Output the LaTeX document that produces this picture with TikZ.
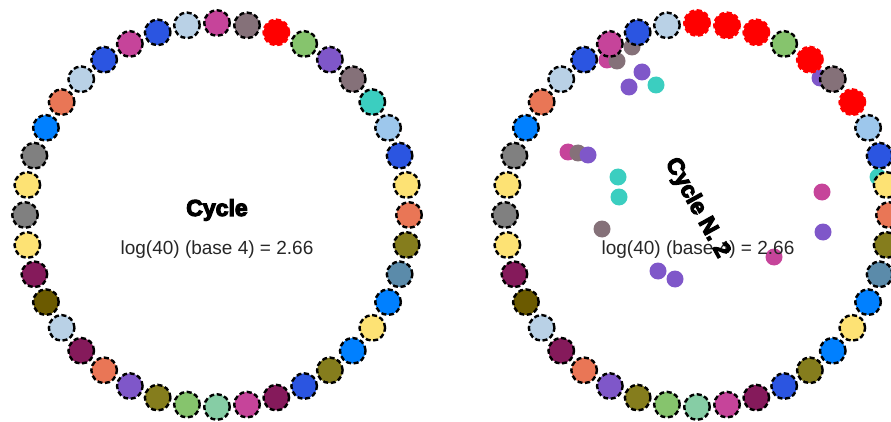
\documentclass[tikz,border=0pt]{standalone}
\usepackage{fontspec}
\setmainfont{Liberation Sans}
\newfontfamily\heavyfont[FakeBold=5]{Liberation Sans Bold}

\definecolor{cMag}{HTML}{C6449A}
\definecolor{cGbr}{HTML}{857179}
\definecolor{cGrn}{HTML}{86C46D}
\definecolor{cPur}{HTML}{7F57C9}
\definecolor{cTeal}{HTML}{3BCEC0}
\definecolor{cSky}{HTML}{9DC7EC}
\definecolor{cBlue}{HTML}{2B55E1}
\definecolor{cYel}{HTML}{FDE274}
\definecolor{cOra}{HTML}{E97656}
\definecolor{cOli}{HTML}{857D1D}
\definecolor{cSteel}{HTML}{5B8BAA}
\definecolor{cAzu}{HTML}{0080FF}
\definecolor{cMar}{HTML}{851A5B}
\definecolor{cSea}{HTML}{86CDA5}
\definecolor{cDol}{HTML}{6B5A00}
\definecolor{cGry}{HTML}{808080}
\definecolor{cIce}{HTML}{B9D1E6}

\begin{document}
\begin{tikzpicture}[x=1pt, y=1pt,
    bead/.style={circle, fill=#1, line width=2.4pt, dash pattern=on 5pt off 2.6pt, minimum size=25.6pt, inner sep=0pt},
    dot/.style={circle, fill=#1, minimum size=17pt, inner sep=0pt},
    ttl/.style={font=\heavyfont\fontsize{23}{28}\selectfont},
    lbl/.style={font=\fontsize{19}{23}\selectfont, text=black!85}
]
\path[use as bounding box] (0,0) rectangle (891,421);
\clip (0,0) rectangle (891,421);

\begin{scope}[shift={(217,206)}]
\foreach \col/\edg [count=\i] in {cMag/black, cGbr/black, red/red, cGrn/black, cPur/black, cGbr/black, cTeal/black, cSky/black, cBlue/black, cYel/black,
    cOra/black, cOli/black, cSteel/black, cAzu/black, cYel/black, cAzu/black, cOli/black, cBlue/black, cMar/black, cMag/black,
    cSea/black, cGrn/black, cOli/black, cPur/black, cOra/black, cMar/black, cIce/black, cDol/black, cMar/black, cYel/black,
    cGry/black, cYel/black, cGry/black, cAzu/black, cOra/black, cIce/black, cBlue/black, cMag/black, cBlue/black, cIce/black}
  \node[bead=\col, draw=\edg] (L\i) at ({99-9*\i}:192) {};
\end{scope}
\node[ttl] (ttlL) at (217,211) {Cycle};
\node[lbl] (logL) at (217,171) {log(40) (base 4) = 2.66};

\foreach \col/\px/\py [count=\j] in {cGbr/632/374, cMag/607/361, cGbr/617/360, cPur/642/349, cPur/629/334, cTeal/656/336, cPur/820/343,
    cMag/568/269, cGbr/578/268, cPur/588/266, cTeal/618/244, cTeal/619/224, cMag/822/229, cTeal/878/244,
    cGbr/602/192, cPur/823/189, cMag/774/164, cPur/658/150, cPur/675/142}
  \node[dot=\col] (d\j) at (\px,\py) {};

\begin{scope}[shift={(697,206)}]
\foreach \col/\edg [count=\i] in {red/red, red/red, red/red, cGrn/black, red/red, cGbr/black, red/red, cSky/black, cBlue/black, cYel/black,
    cOra/black, cOli/black, cSteel/black, cAzu/black, cYel/black, cAzu/black, cOli/black, cBlue/black, cMar/black, cMag/black,
    cSea/black, cGrn/black, cOli/black, cPur/black, cOra/black, cMar/black, cIce/black, cDol/black, cMar/black, cYel/black,
    cGry/black, cYel/black, cGry/black, cAzu/black, cOra/black, cIce/black, cBlue/black, cMag/black, cBlue/black, cIce/black}
  \node[bead=\col, draw=\edg] (R\i) at ({99-9*\i}:192) {};
\end{scope}
\node[lbl] (logR) at (698,171) {log(40) (base 4) = 2.66};
\node[ttl, rotate=-61] (ttlR) at (697,213) {Cycle N. 2};
\end{tikzpicture}
\end{document}
